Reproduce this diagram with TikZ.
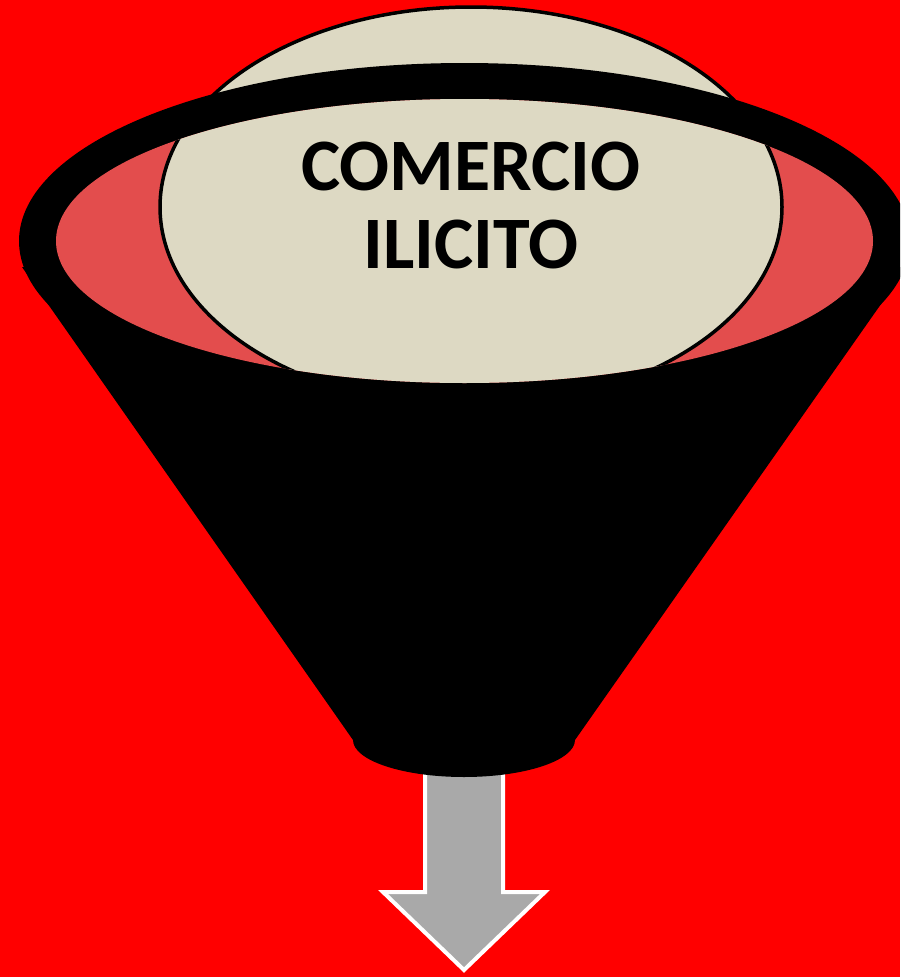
\documentclass[tikz,border=0pt]{standalone}
\usepackage{fontspec}
\setmainfont{Carlito}
\definecolor{bgred}{HTML}{FF0000}
\definecolor{mouthred}{HTML}{E34D4D}
\definecolor{beigefill}{HTML}{DDD9C3}
\definecolor{arrowgray}{HTML}{A9A9A9}
\tikzset{
  beigeball/.style={fill=beigefill, draw=black, line width=3.5pt},
  downarrow/.style={fill=arrowgray, draw=white, line width=4pt, miter limit=10},
  titletext/.style={font=\bfseries\fontsize{74}{78}\selectfont, align=center, inner sep=0pt}
}
\begin{document}
\begin{tikzpicture}[x=1pt,y=-1pt]
\useasboundingbox (0,0) rectangle (900,977);
\clip (0,0) rectangle (900,977);
\fill[bgred] (0,0) rectangle (900,977);
% arrow below the funnel
\draw[downarrow] (425,760) -- (503,760) -- (503,892) -- (545,892) -- (464,970)
  -- (383,892) -- (425,892) -- cycle;
% beige ball (part above the rim)
\draw[beigeball] (471,207) ellipse [x radius=311, y radius=200];
% funnel body: rim and cone
\fill[black] (464.5,241) ellipse [x radius=445.5, y radius=178];
\fill[black] (22,267) -- (353,740) .. controls (353,760.4) and (402.7,777) .. (464,777)
  .. controls (525.3,777) and (575,760.4) .. (575,740) -- (907,267) -- cycle;
% mouth of the funnel
\fill[mouthred] (464.5,241) ellipse [x radius=408.5, y radius=142];
\begin{scope}
  \clip (464.5,241) ellipse [x radius=408.5, y radius=142];
  \draw[beigeball] (471,207) ellipse [x radius=311, y radius=200];
\end{scope}
\node[titletext] (label) at (471,205.5) {COMERCIO\\ILICITO};
\end{tikzpicture}
\end{document}
